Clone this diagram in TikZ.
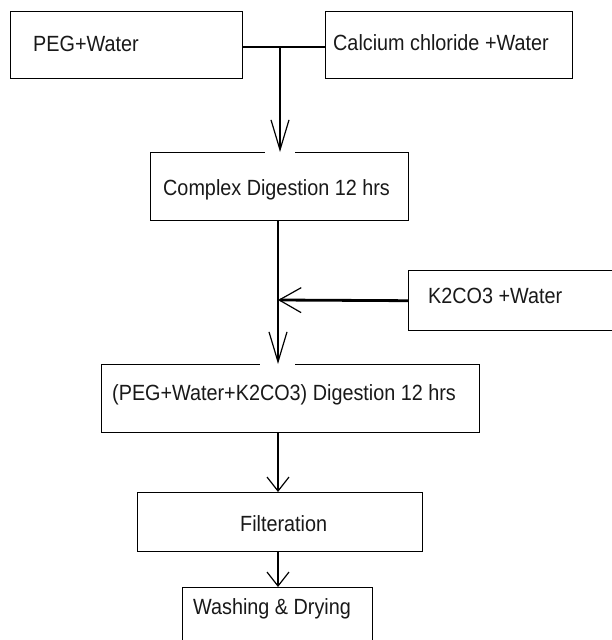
\documentclass[tikz,border=0pt]{standalone}
\usepackage{fontspec}
\setmainfont{Liberation Sans}[FakeStretch=0.9]
\usetikzlibrary{arrows.meta}
\tikzset{
  box/.style={draw=black, line width=1.4pt, rectangle, inner sep=0pt, anchor=north west},
  lbl/.style={inner sep=0pt, anchor=base west, font=\fontsize{22}{26}\selectfont, text=black!90},
  conn/.style={draw=black, line width=2.8pt},
  tipLong/.style={-{Straight Barb[length=30pt,width=18pt,line width=1.2pt]}},
  tipWide/.style={-{Straight Barb[length=22pt,width=25pt,line width=1.2pt]}},
  tipShort/.style={-{Straight Barb[length=14pt,width=22pt,line width=1.2pt]}},
  gapline/.style={draw=white, line width=3pt}
}
\begin{document}
\begin{tikzpicture}[x=1pt,y=-1pt]
\useasboundingbox[fill=white] (0,0) rectangle (611,640);

% boxes
\node[box, minimum width=232pt, minimum height=67pt] (peg) at (10,11) {};
\node[box, minimum width=247pt, minimum height=67pt] (cacl) at (325,11) {};
\node[box, minimum width=258pt, minimum height=68pt] (cd) at (150,152) {};
\node[box, minimum width=242pt, minimum height=60pt] (k2) at (408,270) {};
\node[box, minimum width=378pt, minimum height=68pt] (pk) at (101,364) {};
\node[box, minimum width=285pt, minimum height=59pt] (filt) at (137,492) {};
\node[box, minimum width=190pt, minimum height=87pt] (wash) at (182,587) {};

% texts
\node[lbl] (tpeg) at (33,51) {PEG+Water};
\node[lbl] (tcacl) at (333,50) {Calcium chloride +Water};
\node[lbl] (tcd) at (163,195) {Complex Digestion 12 hrs};
\node[lbl] (tk2) at (428,303) {K2CO3 +Water};
\node[lbl] (tpk) at (112,400) {(PEG+Water+K2CO3) Digestion 12 hrs};
\node[lbl] (tfilt) at (240,531) {Filteration};
\node[lbl] (twash) at (193,614) {Washing \& Drying};

% gaps in box borders under arrow tips
\draw[gapline] (265,152) -- (295,152);
\draw[gapline] (260,364) -- (295,364);

% connectors
\coordinate (j) at (280,47);
\draw[conn] (peg.east |- j) -- (cacl.west |- j);
\draw[conn, tipLong] (j) -- (j |- cd.north);
\coordinate (m) at (278,300);
\draw[conn] (cd.south -| m) -- (m);
\draw[conn, tipLong] (m) -- (m |- pk.north);
\draw[conn, tipWide] (k2.west) -- (m);
\draw[conn, tipShort] (pk.south -| m) -- (m |- filt.north);
\draw[conn, tipShort] (filt.south -| m) -- (m |- wash.north);
\end{tikzpicture}
\end{document}
